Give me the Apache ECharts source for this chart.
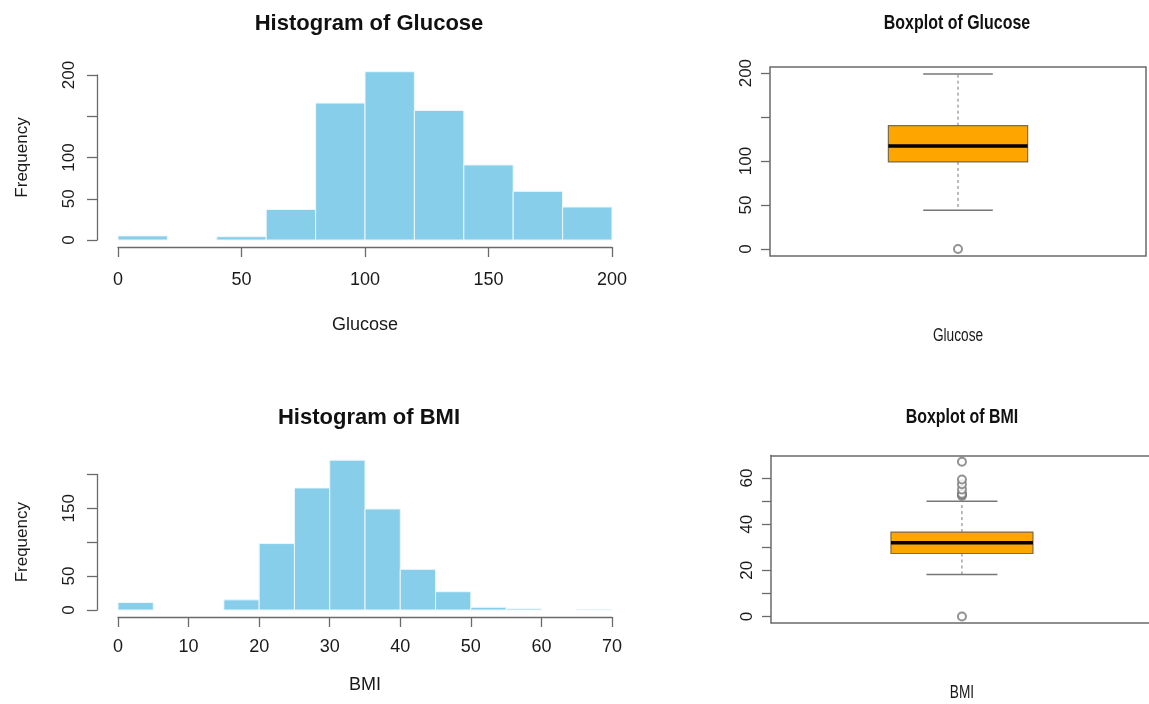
<!DOCTYPE html>
<html>
<head>
<meta charset="utf-8">
<script src="https://cdn.jsdelivr.net/npm/echarts@6/dist/echarts.min.js"></script>
<style>
html,body{margin:0;padding:0;background:#fff;}
#chart{width:1149px;height:704px;}
</style>
</head>
<body>
<div id="chart"></div>
<script>
// ---- data ----
var glucoseBreaks = [0, 20, 40, 60, 80, 100, 120, 140, 160, 180, 200];
var glucoseCounts = [5, 0, 4, 37, 166, 204, 157, 91, 59, 40];
var glucoseXTicks = [0, 50, 100, 150, 200];
var glucoseYTicks = [0, 50, 100, 150, 200];
var glucoseYLabels = [0, 50, 100, 200];

var bmiBreaks = [0, 5, 10, 15, 20, 25, 30, 35, 40, 45, 50, 55, 60, 65, 70];
var bmiCounts = [11, 0, 0, 15, 98, 180, 221, 149, 60, 27, 4, 2, 0, 1];
var bmiXTicks = [0, 10, 20, 30, 40, 50, 60, 70];
var bmiYTicks = [0, 50, 100, 150, 200];
var bmiYLabels = [0, 50, 150];

// boxplot stats: [lower whisker, Q1, median, Q3, upper whisker]
var glucoseBox = [44, 99, 117, 140.25, 199];
var glucoseOutliers = [0];
var glucoseBoxYTicks = [0, 50, 100, 150, 200];
var glucoseBoxYLabels = [0, 50, 100, 200];

var bmiBox = [18.2, 27.3, 32.0, 36.6, 50.0];
var bmiOutliers = [0, 52.3, 52.9, 53.2, 55.0, 57.3, 59.4, 67.1];
var bmiBoxYTicks = [0, 10, 20, 30, 40, 50, 60];
var bmiBoxYLabels = [0, 20, 40, 60];

var titles = ['Histogram of Glucose', 'Boxplot of Glucose', 'Histogram of BMI', 'Boxplot of BMI'];
var xNames = ['Glucose', 'Glucose', 'BMI', 'BMI'];

// ---- helpers ----
var FONT = "'Liberation Sans', Arial, Helvetica, sans-serif";
var AXIS = '#6a6a6a';
var TXT = '#1a1a1a';
var FILL = '#87CEEB';

function histData(breaks, counts) {
  return counts.map(function (c, i) { return [breaks[i], breaks[i + 1], c]; });
}
function histRender(params, api) {
  if (api.value(2) <= 0) { return null; }
  var p0 = api.coord([api.value(0), 0]);
  var p1 = api.coord([api.value(1), api.value(2)]);
  return {
    type: 'rect',
    shape: { x: p0[0], y: p1[1], width: p1[0] - p0[0], height: p0[1] - p1[1] },
    style: { fill: FILL, stroke: '#eef7fb', lineWidth: 1 }
  };
}
function boxRender(params, api) {
  var x = api.value(0);
  var lo = api.value(1), q1 = api.value(2), md = api.value(3), q3 = api.value(4), hi = api.value(5);
  var hw = 0.2, cw = 0.1;
  function c(a, b) { return api.coord([a, b]); }
  var bl = c(x - hw, q1), tr = c(x + hw, q3);
  var mL = c(x - hw, md), mR = c(x + hw, md);
  var wTop = c(x, hi), wQ3 = c(x, q3), wQ1 = c(x, q1), wBot = c(x, lo);
  var capTL = c(x - cw, hi), capTR = c(x + cw, hi), capBL = c(x - cw, lo), capBR = c(x + cw, lo);
  var dash = { stroke: '#777', lineWidth: 1, lineDash: [3, 3] };
  var solid = { stroke: '#777', lineWidth: 1.5 };
  return {
    type: 'group',
    children: [
      { type: 'line', shape: { x1: wQ3[0], y1: wQ3[1], x2: wTop[0], y2: wTop[1] }, style: dash },
      { type: 'line', shape: { x1: wQ1[0], y1: wQ1[1], x2: wBot[0], y2: wBot[1] }, style: dash },
      { type: 'line', shape: { x1: capTL[0], y1: capTL[1], x2: capTR[0], y2: capTR[1] }, style: solid },
      { type: 'line', shape: { x1: capBL[0], y1: capBL[1], x2: capBR[0], y2: capBR[1] }, style: solid },
      { type: 'rect', shape: { x: bl[0], y: tr[1], width: tr[0] - bl[0], height: bl[1] - tr[1] },
        style: { fill: '#FFA500', stroke: '#7a6a50', lineWidth: 1.2 } },
      { type: 'line', shape: { x1: mL[0], y1: mL[1], x2: mR[0], y2: mR[1] }, style: { stroke: '#000', lineWidth: 3.5 } }
    ]
  };
}

var grids = [
  { left: 118, top: 75, width: 494, height: 165 },
  { left: 770, top: 67, width: 376, height: 189 },
  { left: 118, top: 474.4, width: 494, height: 135.6 },
  { left: 771, top: 455.5, right: 0, height: 167.2 }
];

function histX(idx, ticks, name, labelMargin, nameGap) {
  return {
    gridIndex: idx, type: 'value', min: ticks[0], max: ticks[ticks.length - 1],
    interval: ticks[1] - ticks[0], offset: 7,
    splitLine: { show: false },
    axisLine: { show: true, onZero: false, lineStyle: { color: AXIS, width: 1.3 } },
    axisTick: { show: true, length: 10, lineStyle: { color: AXIS, width: 1.3 } },
    axisLabel: { margin: labelMargin, color: TXT, fontSize: 18, fontFamily: FONT, showMinLabel: true, showMaxLabel: true },
    name: name, nameLocation: 'middle', nameGap: nameGap,
    nameTextStyle: { color: TXT, fontSize: 18, fontFamily: FONT }
  };
}
function histY(idx, ticks, labels) {
  return {
    gridIndex: idx, type: 'value', min: 0, max: ticks[ticks.length - 1], offset: 21,
    splitLine: { show: false },
    axisLine: { show: true, onZero: false, lineStyle: { color: AXIS, width: 1.3 } },
    axisTick: { show: true, length: 10, customValues: ticks, lineStyle: { color: AXIS, width: 1.3 } },
    axisLabel: { customValues: labels, rotate: 90, margin: 19, color: TXT, fontSize: 17, fontFamily: FONT },
    name: 'Frequency', nameLocation: 'middle', nameGap: 66,
    nameTextStyle: { color: TXT, fontSize: 17, fontFamily: FONT }
  };
}
function boxX(idx, min, max, showLine, position) {
  return {
    gridIndex: idx, type: 'value', min: min, max: max, position: position || 'bottom',
    splitLine: { show: false },
    axisLine: { show: showLine, onZero: false, lineStyle: { color: AXIS, width: 1.5 } },
    axisTick: { show: false }, axisLabel: { show: false }
  };
}
function boxY(idx, min, max, ticks, labels, showLine) {
  return {
    gridIndex: idx, type: 'value', min: min, max: max,
    splitLine: { show: false },
    axisLine: { show: showLine, onZero: false, lineStyle: { color: AXIS, width: 1.5 } },
    axisTick: { show: true, length: 9, customValues: ticks, lineStyle: { color: AXIS, width: 1.3 } },
    axisLabel: { customValues: labels, rotate: 90, margin: 15, color: TXT, fontSize: 17, fontFamily: FONT }
  };
}
// condensed text (right-hand panels are horizontally squeezed in the reference)
function narrowText(str, cx, cy, size, bold) {
  return {
    type: 'text', x: cx, y: cy, scaleX: 0.76, scaleY: 1,
    style: {
      text: str, x: 0, y: 0,
      font: (bold ? 'bold ' : '') + size + "px 'Liberation Sans', Arial, sans-serif",
      fill: bold ? '#111' : TXT,
      textAlign: 'center', textVerticalAlign: 'middle', align: 'center', verticalAlign: 'middle'
    }
  };
}

var option = {
  backgroundColor: '#fff',
  animation: false,
  title: [
    { text: titles[0], left: 364, top: 8, textAlign: 'center', textStyle: { fontSize: 22, fontWeight: 'bold', fontFamily: FONT, color: '#111' } },
    { text: titles[2], left: 364, top: 402, textAlign: 'center', textStyle: { fontSize: 22, fontWeight: 'bold', fontFamily: FONT, color: '#111' } }
  ],
  graphic: [
    narrowText(titles[1], 957, 23, 21, true),
    narrowText(xNames[1], 958, 336, 18, false),
    narrowText(titles[3], 962, 417, 21, true),
    narrowText(xNames[3], 962, 693, 18, false)
  ],
  grid: [
    Object.assign({ show: false }, grids[0]),
    Object.assign({ show: true, borderColor: AXIS, borderWidth: 1.5, backgroundColor: 'transparent' }, grids[1]),
    Object.assign({ show: false }, grids[2]),
    Object.assign({ show: false }, grids[3])
  ],
  xAxis: [
    histX(0, glucoseXTicks, xNames[0], 24, 69),
    boxX(1, 0.46, 1.54, false),
    histX(2, bmiXTicks, xNames[2], 21, 59),
    boxX(3, 0.462, 1.527, true, 'bottom'),
    boxX(3, 0.462, 1.527, true, 'top')
  ],
  yAxis: [
    histY(0, glucoseYTicks, glucoseYLabels),
    boxY(1, -7.96, 206.96, glucoseBoxYTicks, glucoseBoxYLabels, false),
    histY(2, bmiYTicks, bmiYLabels),
    boxY(3, -2.684, 69.784, bmiBoxYTicks, bmiBoxYLabels, true)
  ],
  series: [
    { type: 'custom', xAxisIndex: 0, yAxisIndex: 0, renderItem: histRender, data: histData(glucoseBreaks, glucoseCounts), clip: false },
    { type: 'custom', xAxisIndex: 1, yAxisIndex: 1, renderItem: boxRender, data: [[1].concat(glucoseBox)] },
    { type: 'scatter', xAxisIndex: 1, yAxisIndex: 1, symbol: 'emptyCircle', symbolSize: 8,
      itemStyle: { color: '#777', borderColor: '#777', borderWidth: 1.2 },
      data: glucoseOutliers.map(function (v) { return [1, v]; }) },
    { type: 'custom', xAxisIndex: 2, yAxisIndex: 2, renderItem: histRender, data: histData(bmiBreaks, bmiCounts), clip: false },
    { type: 'custom', xAxisIndex: 3, yAxisIndex: 3, renderItem: boxRender, data: [[1].concat(bmiBox)] },
    { type: 'scatter', xAxisIndex: 3, yAxisIndex: 3, symbol: 'emptyCircle', symbolSize: 8,
      itemStyle: { color: '#777', borderColor: '#777', borderWidth: 1.2 },
      data: bmiOutliers.map(function (v) { return [1, v]; }) }
  ]
};

var chart = echarts.init(document.getElementById('chart'), null, { renderer: 'canvas' });
chart.setOption(option);
</script>
</body>
</html>
